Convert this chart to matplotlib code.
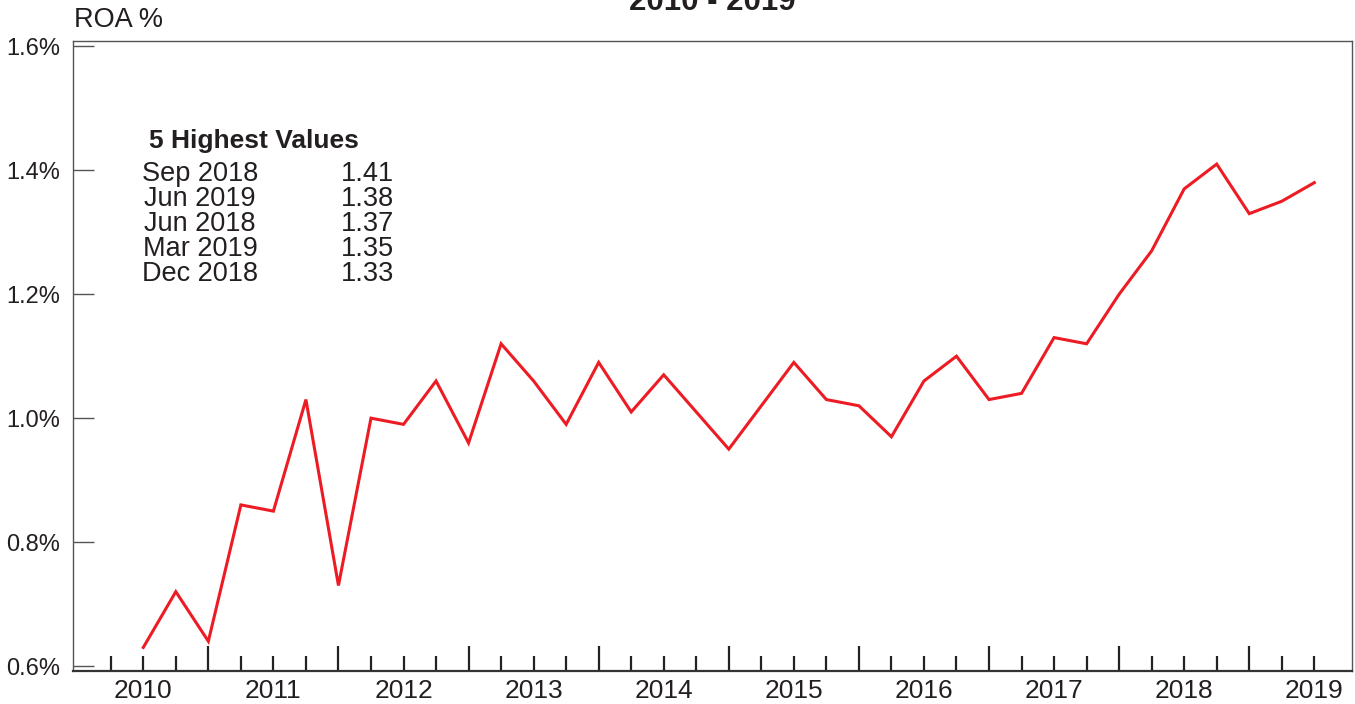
import numpy as np
import pandas as pd
import matplotlib
matplotlib.use('Agg')
import matplotlib.pyplot as plt

plt.rcParams['font.family'] = ['Liberation Sans', 'DejaVu Sans']

# quarterly ROA (%), Jun 2010 .. Jun 2019
quarters = pd.date_range('2010-06-30', '2019-06-30', freq='QE')
roa = [0.63, 0.72, 0.64, 0.86, 0.85, 1.03, 0.73, 1.00, 0.99, 1.06,
       0.96, 1.12, 1.06, 0.99, 1.09, 1.01, 1.07, 1.01, 0.95, 1.02,
       1.09, 1.03, 1.02, 0.97, 1.06, 1.10, 1.03, 1.04, 1.13, 1.12,
       1.20, 1.27, 1.37, 1.41, 1.33, 1.35, 1.38]
years = list(range(2010, 2020))
yticks = [0.6, 0.8, 1.0, 1.2, 1.4, 1.6]

W, H = 1355, 704
txt = '#231f20'
fig = plt.figure(figsize=(W / 100, H / 100), dpi=100)
ax = fig.add_axes([72.7 / W, 33 / H, (1351.7 - 72.7) / W, (671 - 41) / H])

x = np.arange(len(roa))
ax.plot(x, roa, color='#ed1c24', lw=2.2, solid_joinstyle='miter')

ax.set_xlim(-2.17, 37.15)
ax.set_ylim(0.592, 1.6086)

# ticks: every quarter, taller at year end (Dec), year label at Jun
tick_pos = np.arange(-1, len(roa))
dec_pos = [p for p in tick_pos if (p + 2) % 4 == 0]
other_pos = [p for p in tick_pos if (p + 2) % 4 != 0]
other_lab = [str(years[p // 4]) if p % 4 == 0 else '' for p in other_pos]
ax.set_xticks(dec_pos, [''] * len(dec_pos))
ax.set_xticks(other_pos, other_lab, minor=True)
ax.tick_params(axis='x', which='major', direction='in', length=18, width=1.6, color='#222222')
ax.tick_params(axis='x', which='minor', direction='in', length=11, width=1.6, color='#222222',
               labelsize=19, labelcolor=txt, pad=6)

ax.set_yticks(yticks, [f'{v:.1f}%' for v in yticks])
ax.tick_params(axis='y', direction='in', length=15, width=1.0, color='#555555',
               labelsize=17, labelcolor=txt, pad=9)

for s in ['top', 'right', 'left']:
    ax.spines[s].set_color('#555555')
    ax.spines[s].set_linewidth(1.0)
ax.spines['bottom'].set_color('#333333')
ax.spines['bottom'].set_linewidth(1.6)

fig.text(74 / W, 1 - 27.3 / H, 'ROA %', fontsize=19.5, color=txt, va='baseline')
fig.text(712 / W, 1 - 10 / H, '2010 - 2019', fontsize=22.5, fontweight='bold',
         color=txt, ha='center', va='baseline')

# 5 highest values table
fig.text(149 / W, 1 - 148 / H, '5 Highest Values', fontsize=19, fontweight='bold',
         color=txt, va='baseline')
top5 = np.argsort(roa)[::-1][:5]
for k, idx in enumerate(top5):
    yb = 1 - (180.7 + 25 * k) / H
    fig.text(200 / W, yb, quarters[idx].strftime('%b %Y'), fontsize=19.5, color=txt,
             ha='center', va='baseline')
    fig.text(341 / W, yb, f'{roa[idx]:.2f}', fontsize=19.5, color=txt, va='baseline')

fig.savefig('out.png', dpi=100)
